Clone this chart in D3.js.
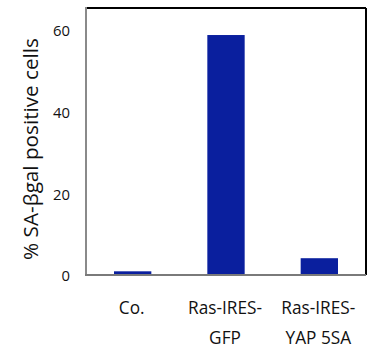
<!DOCTYPE html>
<html><head><meta charset="utf-8">
<script src="https://cdn.jsdelivr.net/npm/d3@7"></script>
<style>body{margin:0;background:#fff}svg{display:block}text{font-family:"Open Sans",Lato,sans-serif;fill:#111}</style>
</head><body>
<svg id="c" width="376" height="349"></svg>
<script>
const categories = [["Co."], ["Ras-IRES-", "GFP"], ["Ras-IRES-", "YAP 5SA"]];
const values = [0.9, 58.6, 4.1];
const yTicks = [0, 20, 40, 60];
const yLabel = "% SA-βgal positive cells";

const svg = d3.select("#c");
const m = {l: 86, r: 10, t: 8, b: 74};
const W = 376, H = 349;
const x = d3.scaleBand().domain(d3.range(categories.length)).range([m.l, W - m.r]).paddingInner(0.6).paddingOuter(0.3);
const y = d3.scaleLinear().domain([0, 65.2]).range([H - m.b, m.t]);

function fit(sel, target) {
  const n = sel.node();
  const fs = parseFloat(n.style.fontSize);
  const len = n.getComputedTextLength();
  return fs * target / len;
}

svg.append("g").selectAll("rect").data(values).join("rect")
  .attr("x", (d, i) => x(i)).attr("width", x.bandwidth())
  .attr("y", d => y(d)).attr("height", d => y(0) - y(d))
  .attr("fill", "#0a1f9e");

const x0 = m.l, x1 = W - m.r, y0 = m.t, y1 = H - m.b;
svg.append("line").attr("x1", x0).attr("x2", x1).attr("y1", y0).attr("y2", y0).attr("stroke", "#000").attr("stroke-width", 2);
svg.append("line").attr("x1", x1).attr("x2", x1).attr("y1", y0).attr("y2", y1).attr("stroke", "#000").attr("stroke-width", 2);
svg.append("line").attr("x1", x0).attr("x2", x0).attr("y1", y0 - 1).attr("y2", y1 + 1).attr("stroke", "#8a8a8a").attr("stroke-width", 2);
svg.append("line").attr("x1", x0 - 1).attr("x2", x1).attr("y1", y1).attr("y2", y1).attr("stroke", "#7a7a7a").attr("stroke-width", 2);

const probe = svg.append("text").style("font-size", "16px").text("60");
const tickFs = fit(probe, 17);
probe.remove();

const ya = svg.append("g").attr("transform", `translate(${x0},0)`)
  .call(d3.axisLeft(y).tickValues(yTicks).tickSize(0).tickPadding(16));
ya.select(".domain").remove();
ya.selectAll("text").style("font-size", tickFs + "px").attr("fill", "#111").attr("font-family", null).attr("dy", "0.4em");

const probe2 = svg.append("text").style("font-size", "16px").text("Ras-IRES-");
const catFs = fit(probe2, 74);
probe2.remove();

const xl = svg.append("g");
categories.forEach((lines, i) => {
  const cx = x(i) + x.bandwidth() / 2 - 1;
  const t = xl.append("text").attr("text-anchor", "middle").style("font-size", catFs + "px")
    .attr("x", cx).attr("y", 314);
  lines.forEach((s, j) => t.append("tspan").attr("x", cx).attr("dy", j ? 29.5 : 0).text(s));
});

const yt = svg.append("text").attr("transform", `translate(38,149) rotate(-90)`).attr("text-anchor", "middle")
  .style("font-size", "16px").text(yLabel);
yt.style("font-size", fit(yt, 222) + "px");
</script>
</body></html>
